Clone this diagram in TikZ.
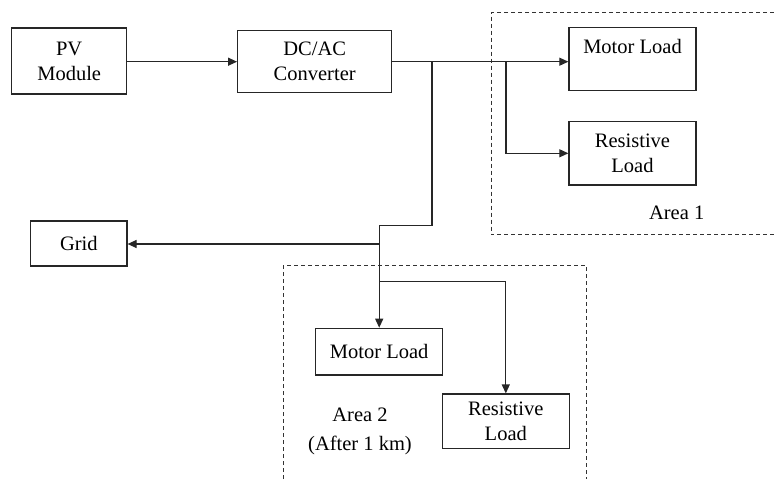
\documentclass[tikz,border=0pt]{standalone}
\usepackage{fontspec}
\setmainfont{Liberation Serif}
\newfontfamily\tnr{Liberation Serif}
\usetikzlibrary{arrows.meta}
\begin{document}
\begin{tikzpicture}[x=1pt,y=-1pt,
  box/.style={draw=black!85, line width=1.3pt, inner sep=0pt, align=center,
    font=\tnr\fontsize{20.5}{25}\selectfont},
  conn/.style={draw=black!85, line width=1.2pt},
  arr/.style={conn, -{Triangle[length=9pt,width=8pt]}},
  area/.style={draw=black!80, line width=1pt, dash pattern=on 4pt off 3pt},
  lbl/.style={inner sep=0pt, align=center, font=\tnr\fontsize{20.5}{29}\selectfont}]
\useasboundingbox (0,0) rectangle (774,479);
% boxes
\node[box, minimum width=115pt, minimum height=66pt] (pv) at (69.2,61) {PV\\Module};
\node[box, minimum width=154pt, minimum height=62pt] (dc) at (314.7,61.7) {DC/AC\\Converter};
\node[box, minimum width=127pt, minimum height=62.6pt] (m1) at (632.5,59) {Motor Load\\\mbox{}};
\node[box, minimum width=127pt, minimum height=63.3pt] (r1) at (632.5,153.3) {Resistive\\Load};
\node[box, minimum width=96.3pt, minimum height=45pt] (grid) at (78.8,243.5) {Grid};
\node[box, minimum width=127pt, minimum height=46.7pt] (m2) at (379.2,351.7) {Motor Load};
\node[box, minimum width=127pt, minimum height=54.3pt] (r2) at (505.8,421.2) {Resistive\\Load};
% area labels
\node[lbl] (a1) at (676.7,213.3) {Area 1};
\node[lbl] (a2) at (360,431) {Area 2\\(After 1 km)};
% dashed areas
\draw[area] (774,12.7) -- (491,12.7) -- (491,234.3) -- (774,234.3);
\draw[area] (283.3,479) -- (283.3,265.7) -- (586.7,265.7) -- (586.7,479);
% junction coordinates
\coordinate (j1) at (432,61);
\coordinate (j2) at (506,61);
\coordinate (k1) at (432,225.7);
\coordinate (k2) at (379.2,225.7);
\coordinate (g) at (379.2,244);
\coordinate (b) at (379.2,281.5);
\coordinate (b2) at (505.8,281.5);
% connectors
\draw[arr] (pv.east |- dc.center) -- (dc.west);
\draw[arr] (dc.east) -- (dc.east -| m1.west);
\draw[arr] (j2) |- (r1.west);
\draw[conn] (j1) -- (k1) -- (k2);
\draw[arr] (k2) -- (m2.north);
\draw[arr] (g) -- (g -| grid.east);
\draw[arr] (b) -- (b2) -- (r2.north);
\end{tikzpicture}
\end{document}
